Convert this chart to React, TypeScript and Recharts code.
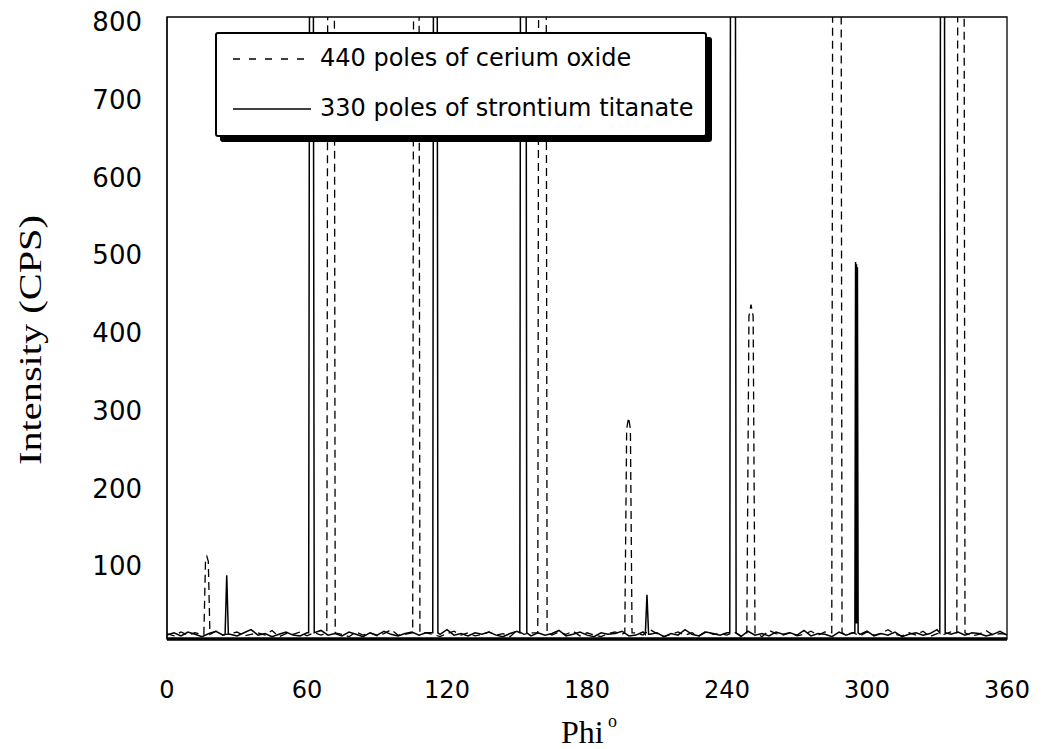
import React from "react";
import { LineChart, Line, XAxis, YAxis, ReferenceArea, Legend, Label } from "recharts";

// ---- Data ----
const xTicks = [0, 60, 120, 180, 240, 300, 360];
const yTicks = [100, 200, 300, 400, 500, 600, 700, 800];

// Baseline readings every 3 degrees (phi = 0, 3, 6, ... 360)
const baselineStep = 3;
const srtioBaseline = [
  5, 8, 4, 9, 6, 3, 7, 10, 5, 6, 4, 8, 12, 5, 7, 3, 6, 9, 5, 4,
  8, 6, 11, 5, 7, 4, 9, 6, 3, 8, 5, 10, 6, 4, 7, 9, 5, 8, 3, 6,
  12, 5, 7, 4, 8, 6, 9, 5, 3, 7, 10, 6, 4, 8, 5, 7, 11, 4, 6, 9,
  5, 3, 8, 6, 7, 10, 4, 5, 9, 6, 8, 3, 7, 5, 12, 6, 4, 9, 7, 5,
  8, 6, 3, 10, 5, 7, 4, 9, 6, 8, 5, 11, 4, 7, 6, 3, 9, 5, 8, 6,
  10, 4, 7, 5, 9, 3, 6, 8, 5, 7, 12, 4, 6, 9, 5, 8, 7, 4, 6, 10, 5,
];
const ceoBaseline = [
  7, 4, 9, 5, 8, 6, 3, 10, 5, 7, 9, 4, 6, 8, 5, 11, 3, 7, 6, 9,
  4, 8, 5, 7, 10, 6, 3, 9, 5, 8, 4, 7, 12, 5, 6, 9, 4, 8, 6, 3,
  7, 10, 5, 8, 4, 6, 9, 5, 7, 3, 11, 6, 8, 4, 7, 5, 9, 6, 10, 4,
  8, 5, 3, 7, 9, 6, 4, 8, 5, 12, 7, 3, 6, 9, 5, 8, 4, 10, 6, 7,
  5, 9, 4, 8, 6, 3, 11, 7, 5, 8, 4, 6, 10, 5, 9, 3, 7, 6, 8, 4,
  9, 5, 7, 12, 6, 4, 8, 5, 10, 3, 7, 6, 9, 5, 8, 4, 6, 11, 5, 7, 6,
];

// Peaks: [phi, intensity] points (tall peaks exceed the 800 CPS axis limit)
const srtioPeaks: number[][][] = [
  [[24.9, 6], [25.6, 82], [26.3, 6]],
  [[60.7, 8], [61.1, 900], [62.7, 900], [63.1, 8]],
  [[113.9, 8], [114.2, 900], [115.8, 900], [116.1, 8]],
  [[151.2, 8], [151.5, 900], [153.9, 900], [154.2, 8]],
  [[205.0, 6], [205.7, 57], [206.4, 6]],
  [[241.2, 8], [241.5, 900], [243.6, 900], [243.9, 8]],
  [[294.8, 8], [295.1, 485], [295.3, 20], [295.5, 482], [295.7, 20], [295.9, 478], [296.2, 8]],
  [[331.2, 8], [331.5, 900], [333.2, 900], [333.5, 8]],
];
const ceoPeaks: number[][][] = [
  [[15.8, 6], [16.5, 100], [17.1, 106], [17.7, 100], [18.4, 6]],
  [[68.5, 8], [68.9, 900], [71.7, 900], [72.1, 8]],
  [[105.3, 8], [105.7, 900], [108.0, 900], [108.4, 8]],
  [[158.9, 8], [159.3, 900], [162.5, 900], [162.9, 8]],
  [[196.2, 8], [197.0, 270], [197.8, 285], [198.6, 270], [199.3, 8]],
  [[248.5, 8], [249.4, 415], [250.3, 430], [251.2, 415], [252.0, 8]],
  [[284.9, 8], [285.3, 900], [288.9, 900], [289.3, 8]],
  [[338.5, 8], [338.9, 900], [341.6, 900], [342.0, 8]],
];

const seriesNames = ["440 poles of cerium oxide", "330 poles of strontium titanate"];

function buildSeries(baseline: number[], peaks: number[][][]) {
  const pts: { phi: number; v: number }[] = [];
  baseline.forEach((v, i) => {
    const phi = i * baselineStep;
    const inside = peaks.some((p) => phi >= p[0][0] - 0.4 && phi <= p[p.length - 1][0] + 0.4);
    if (!inside) pts.push({ phi, v });
  });
  peaks.forEach((p) => p.forEach(([phi, v]) => pts.push({ phi, v })));
  pts.sort((a, b) => a.phi - b.phi);
  return pts;
}

const ceoData = buildSeries(ceoBaseline, ceoPeaks);
const srtioData = buildSeries(srtioBaseline, srtioPeaks);

const SANS = "DejaVu Sans";
const SERIF = "Liberation Serif";

const XTick = (props: any) => {
  const { x, y, payload } = props;
  return (
    <text x={x} y={y} textAnchor="middle" dominantBaseline="central" fontFamily={SANS} fontSize={24} fill="#000">
      {payload.value}
    </text>
  );
};

const YTick = (props: any) => {
  const { x, y, payload } = props;
  return (
    <text x={x} y={y + 5} textAnchor="end" dominantBaseline="central" fontFamily={SANS} fontSize={26} fill="#000">
      {payload.value}
    </text>
  );
};

const LegendBox = () => (
  <div
    style={{
      position: "relative",
      boxSizing: "border-box",
      width: 492,
      height: 105,
      border: "2px solid #000",
      borderRadius: 3,
      boxShadow: "5px 5px 0 #000",
      background: "#fff",
    }}
  >
    <svg width={100} height={101} style={{ position: "absolute", left: 0, top: 0 }}>
      <line x1={16} x2={94} y1={25} y2={25} stroke="#000" strokeWidth={1.3} strokeDasharray="7 9" />
      <line x1={16} x2={94} y1={75} y2={75} stroke="#000" strokeWidth={1.3} />
    </svg>
    <div
      style={{
        position: "absolute",
        left: 103,
        top: 8,
        fontFamily: SANS,
        fontSize: 24,
        lineHeight: "32px",
        color: "#000",
        whiteSpace: "nowrap",
      }}
    >
      {seriesNames[0]}
    </div>
    <div
      style={{
        position: "absolute",
        left: 103,
        top: 58,
        fontFamily: SANS,
        fontSize: 24,
        lineHeight: "32px",
        color: "#000",
        whiteSpace: "nowrap",
      }}
    >
      {seriesNames[1]}
    </div>
  </div>
);

export default function App() {
  return (
    <div style={{ position: "absolute", left: 0, top: 0, width: 1044, height: 749, background: "#fff" }}>
      <LineChart width={1044} height={749} margin={{ top: 17, right: 37, bottom: 50, left: 107 }}>
        <XAxis
          dataKey="phi"
          type="number"
          domain={[0, 360]}
          ticks={xTicks}
          allowDataOverflow
          axisLine={{ stroke: "#000", strokeWidth: 3.5 }}
          tickLine={false}
          tickSize={0}
          tickMargin={51}
          tick={<XTick />}
          height={60}
        >
          <Label
            content={(p: any) => {
              const vb = p.viewBox || { x: 167, y: 639, width: 840 };
              return (
                <text
                  x={vb.x + vb.width / 2 + 2}
                  y={vb.y + 104}
                  textAnchor="middle"
                  fontFamily={SERIF}
                  fontSize={32}
                  fill="#000"
                >
                  Phi
                  <tspan fontSize={18} dy={-16}>
                    {" o"}
                  </tspan>
                </text>
              );
            }}
          />
        </XAxis>
        <YAxis
          type="number"
          domain={[0, 800]}
          ticks={yTicks}
          allowDataOverflow
          axisLine={{ stroke: "#000", strokeWidth: 1.2 }}
          tickLine={false}
          tickSize={0}
          tickMargin={25}
          tick={<YTick />}
          width={60}
        >
          <Label
            content={(p: any) => {
              const vb = p.viewBox || { x: 107, y: 17, height: 622 };
              const cx = vb.x - 77;
              const cy = vb.y + vb.height / 2 + 12;
              return (
                <text
                  x={cx}
                  y={cy}
                  transform={`rotate(-90, ${cx}, ${cy})`}
                  textAnchor="middle"
                  dominantBaseline="central"
                  fontFamily={SERIF}
                  fontSize={32}
                  textLength={250}
                  lengthAdjust="spacingAndGlyphs"
                  fill="#000"
                >
                  Intensity (CPS)
                </text>
              );
            }}
          />
        </YAxis>
        <ReferenceArea x1={0} x2={360} y1={0} y2={800} fill="none" stroke="#000" strokeWidth={1.3} ifOverflow="visible" />
        <Line
          data={ceoData}
          dataKey="v"
          name={seriesNames[0]}
          type="linear"
          stroke="#000"
          strokeWidth={1.3}
          strokeDasharray="8 5"
          dot={false}
          activeDot={false}
          isAnimationActive={false}
        />
        <Line
          data={srtioData}
          dataKey="v"
          name={seriesNames[1]}
          type="linear"
          stroke="#000"
          strokeWidth={1.5}
          dot={false}
          activeDot={false}
          isAnimationActive={false}
        />
        <Legend
          layout="horizontal"
          verticalAlign="middle"
          align="center"
          wrapperStyle={{ left: 215, top: 32, width: 492, height: 105 }}
          content={() => <LegendBox />}
        />
      </LineChart>
    </div>
  );
}
